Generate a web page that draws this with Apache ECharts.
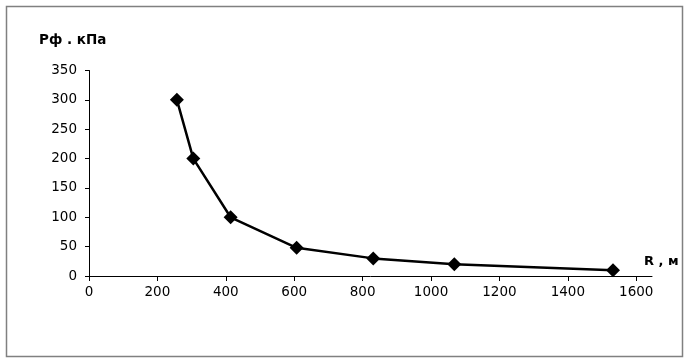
<!DOCTYPE html>
<html>
<head>
<meta charset="utf-8">
<script src="https://cdn.jsdelivr.net/npm/echarts@6/dist/echarts.min.js"></script>
<style>
html,body{margin:0;padding:0;background:#fff;}
#c{width:689px;height:363px;}
</style>
</head>
<body>
<div id="c"></div>
<script>
// Data
const distanceR = [257, 305, 414, 607, 831, 1068, 1532];   // R, м
const pressureP = [300, 200, 100, 48, 30, 20, 10];          // Рф, кПа
const xTicks = [0, 200, 400, 600, 800, 1000, 1200, 1400, 1600];
const yTicks = [0, 50, 100, 150, 200, 250, 300, 350];
const yTitle = 'Рф . кПа';
const xTitle = 'R , м';

const points = distanceR.map((r, i) => [r, pressureP[i]]);
const font = '"DejaVu Sans", Verdana, sans-serif';

const chart = echarts.init(document.getElementById('c'), null, {renderer: 'canvas'});
chart.setOption({
  animation: false,
  backgroundColor: '#ffffff',
  grid: {left: 89, top: 70.5, right: 37, bottom: 87, containLabel: false},
  xAxis: {
    type: 'value', min: 0, max: 1646, interval: 200,
    splitLine: {show: false},
    axisLine: {show: true, onZero: false, lineStyle: {color: '#000', width: 1}},
    axisTick: {show: true, inside: false, length: 5, lineStyle: {color: '#000'}, customValues: xTicks},
    axisLabel: {color: '#000', fontSize: 13.5, fontFamily: font, margin: 9, customValues: xTicks,
      formatter: v => String(v)}
  },
  yAxis: {
    type: 'value', min: 0, max: 350, interval: 50,
    splitLine: {show: false},
    axisLine: {show: true, lineStyle: {color: '#000', width: 1}},
    axisTick: {show: true, inside: false, length: 4, lineStyle: {color: '#000'}, customValues: yTicks},
    axisLabel: {color: '#000', fontSize: 13.5, fontFamily: font, margin: 12, customValues: yTicks,
      formatter: v => String(v)}
  },
  series: [{
    type: 'line',
    data: points,
    symbol: 'diamond',
    symbolSize: 14,
    itemStyle: {color: '#000'},
    lineStyle: {color: '#000', width: 2.5},
    z: 3
  }],
  graphic: [
    {type: 'rect', shape: {x: 6.5, y: 6.5, width: 676, height: 350}, style: {fill: 'none', stroke: '#808080', lineWidth: 1.5}, silent: true, z: -1},
    {type: 'text', left: 39, top: 33, style: {text: yTitle, font: 'bold 13.5px ' + font, fill: '#000'}},
    {type: 'text', left: 644, top: 255, style: {text: xTitle, font: 'bold 13px ' + font, fill: '#000'}}
  ]
});
</script>
</body>
</html>
